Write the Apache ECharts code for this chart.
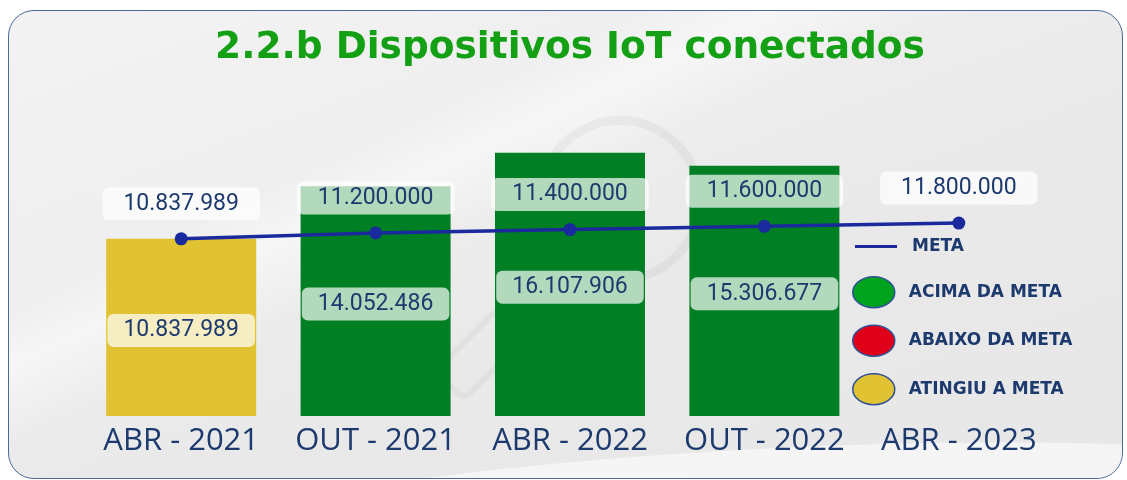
<!DOCTYPE html>
<html>
<head>
<meta charset="utf-8">
<script src="https://cdn.jsdelivr.net/npm/echarts@6/dist/echarts.min.js"></script>
<style>
  body { margin: 0; background: #ffffff; }
  #painel {
    position: absolute; left: 8px; top: 10px; width: 1113px; height: 467px;
    border: 1.5px solid #4a6a98; border-radius: 26px; overflow: hidden;
    background:
      linear-gradient(155deg, rgba(255,255,255,0) 0%, rgba(255,255,255,0) 30%, rgba(255,255,255,0.5) 36%, rgba(255,255,255,0) 44%),
      linear-gradient(160deg, #f3f3f3 0%, #eeeeee 35%, #e9e9e9 60%, #e7e7e7 100%);
  }
  /* lupa apagada ao fundo */
  #anel {
    position: absolute; left: 527px; top: 105px; width: 150px; height: 150px;
    border: 9px solid rgba(0,0,0,0.04); border-radius: 50%;
  }
  #cabo {
    position: absolute; left: 415px; top: 296px; width: 150px; height: 34px;
    border: 6px solid rgba(0,0,0,0.035); border-radius: 12px; transform: rotate(-45deg);
  }
  #onda {
    position: absolute; left: 150px; top: 438px; width: 1200px; height: 140px;
    border-radius: 50%; background: rgba(255,255,255,0.55); transform: rotate(-3deg);
  }
  #grafico { position: absolute; left: 0; top: 0; width: 1127px; height: 480px; }
</style>
</head>
<body>
<div id="painel"><div id="anel"></div><div id="cabo"></div><div id="onda"></div></div>
<div id="grafico"></div>
<script>
// Dados do gráfico
const periodos = ['ABR - 2021', 'OUT - 2021', 'ABR - 2022', 'OUT - 2022', 'ABR - 2023'];
const realizado = [10837989, 14052486, 16107906, 15306677, null];
const meta = [10837989, 11200000, 11400000, 11600000, 11800000];
const situacao = ['ATINGIU A META', 'ACIMA DA META', 'ACIMA DA META', 'ACIMA DA META', null];

const corTexto = '#1d3a6e';
const coresBarra = { 'ACIMA DA META': '#007f24', 'ABAIXO DA META': '#e0001a', 'ATINGIU A META': '#e0c232' };
const coresLegenda = { 'ACIMA DA META': '#00a31e', 'ABAIXO DA META': '#e0001a', 'ATINGIU A META': '#e0c232' };

function formatar(v) {
    return String(v).replace(/\B(?=(\d{3})+(?!\d))/g, '.');
}

const rotulo = {
    color: corTexto,
    fontFamily: 'Roboto',
    fontSize: 23,
    backgroundColor: 'rgba(255,255,255,0.7)',
    borderRadius: 6,
    padding: [5, 16]
};

// uma série de barras por situação (barGap -100% para ficarem no mesmo lugar)
const seriesBarra = Object.keys(coresBarra).map(nome => ({
    name: nome,
    type: 'bar',
    barWidth: 150,
    barGap: '-100%',
    itemStyle: { color: coresBarra[nome] },
    label: Object.assign({ show: true, position: 'inside', offset: [0, 3], formatter: p => formatar(p.value) }, rotulo),
    data: realizado.map((v, i) => situacao[i] === nome ? v : null)
}));

const chart = echarts.init(document.getElementById('grafico'));
chart.setOption({
    animation: false,
    title: {
        text: '2.2.b Dispositivos IoT conectados',
        left: 565, textAlign: 'center', top: 24,
        textStyle: { color: '#14a014', fontFamily: 'DejaVu Sans', fontWeight: 'bold', fontSize: 37.5 }
    },
    grid: { left: 84, right: 71, top: 89, bottom: 64 },
    xAxis: {
        type: 'category',
        data: periodos,
        axisLine: { show: false },
        axisTick: { show: false },
        axisLabel: { interval: 0, color: corTexto, fontFamily: 'Open Sans', fontSize: 31, margin: 10 }
    },
    yAxis: { type: 'value', min: 0, max: 20000000, show: false, splitLine: { show: false } },
    legend: [
        {
            data: ['META'],
            left: 850, top: 233,
            icon: 'path://M0,0H40V4H0Z',
            itemWidth: 42, itemHeight: 3,
            symbolKeepAspect: false,
            textStyle: { color: corTexto, fontFamily: 'DejaVu Sans', fontWeight: 'bold', fontSize: 17, padding: [0, 0, 0, 10] },
            selectedMode: false
        },
        {
            data: Object.keys(coresLegenda).map(n => ({ name: n, itemStyle: { color: coresLegenda[n] } })),
            orient: 'vertical',
            left: 847, top: 271,
            icon: 'path://M0,15A21,15 0 1,1 42,15A21,15 0 1,1 0,15Z',
            itemWidth: 42, itemHeight: 31, itemGap: 16,
            symbolKeepAspect: false,
            itemStyle: { borderColor: '#2f5296', borderWidth: 1.5 },
            textStyle: { color: corTexto, fontFamily: 'DejaVu Sans', fontWeight: 'bold', fontSize: 17, padding: [0, 0, 0, 9] },
            selectedMode: false
        }
    ],
    series: seriesBarra.concat([{
        name: 'META',
        type: 'line',
        z: 5,
        symbol: 'circle',
        symbolSize: 13,
        lineStyle: { color: '#1a2a9c', width: 3.5 },
        itemStyle: { color: '#1a2a9c' },
        label: Object.assign({ show: true, position: 'top', distance: 12, formatter: p => formatar(p.value) }, rotulo, { padding: [5, 21] }),
        data: meta
    }])
});
</script>
</body>
</html>
